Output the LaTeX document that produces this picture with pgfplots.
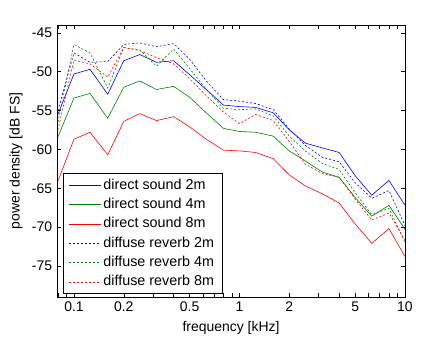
\documentclass[border=0pt]{standalone}
\usepackage{fontspec}
\setmainfont{Liberation Sans}
\usepackage{pgfplots}
\pgfplotsset{compat=1.18}
\usepackage{pgfplotstable}
\pgfplotstableread{
f     ds2   ds4   ds8   dr2   dr4   dr8
0.08  -55.5 -58.4 -64.1 -55.0 -56.5 -57.5
0.1   -50.3 -53.4 -58.7 -47.6 -46.5 -48.5
0.125 -49.7 -52.8 -57.8 -48.8 -47.6 -49.0
0.16  -52.9 -56.0 -60.7 -48.7 -52.1 -50.7
0.2   -48.6 -52.0 -56.4 -46.5 -46.9 -46.9
0.25  -47.8 -51.2 -55.4 -46.3 -47.2 -47.3
0.315 -48.8 -52.3 -56.3 -46.8 -49.3 -48.2
0.4   -48.6 -51.9 -55.8 -46.4 -47.1 -49.0
0.5   -50.4 -53.3 -57.1 -48.4 -49.6 -50.9
0.63  -52.3 -55.3 -58.7 -51.2 -52.3 -53.1
0.8   -54.3 -57.3 -60.1 -53.6 -54.7 -55.2
1     -54.5 -57.7 -60.2 -53.8 -54.9 -56.7
1.25  -54.6 -57.8 -60.4 -54.1 -54.8 -55.5
1.6   -55.3 -58.3 -61.2 -54.9 -55.7 -56.3
2     -57.5 -60.2 -63.3 -57.4 -58.3 -59.0
2.5   -59.2 -61.5 -64.7 -59.5 -60.2 -61.9
3.15  -59.8 -62.9 -65.7 -61.0 -61.8 -63.1
4     -60.4 -63.6 -66.9 -61.6 -62.6 -63.6
5     -63.4 -66.2 -69.6 -64.3 -65.6 -66.4
6.3   -65.9 -68.6 -72.1 -66.3 -68.4 -69.1
8     -64.0 -67.2 -70.2 -65.3 -67.6 -68.2
10    -67.2 -70.3 -73.8 -69.8 -72.0 -71.7
}\data
\definecolor{mblue}{rgb}{0,0,1}
\definecolor{mgreen}{rgb}{0,0.5,0}
\definecolor{mred}{rgb}{1,0,0}
\begin{document}
\fontsize{14}{16.8}\selectfont
\begin{tikzpicture}
\begin{axis}[
  scale only axis, width=348bp, height=272bp,
  xmode=log, xmin=0.079, xmax=10, ymin=-79, ymax=-44,
  xtick={0.1,0.2,0.5,1,2,5,10}, xticklabels={0.1,0.2,0.5,1,2,5,10},
  minor xtick={0.08,0.09,0.3,0.4,0.6,0.7,0.8,0.9,3,4,6,7,8,9},
  ytick={-75,-70,-65,-60,-55,-50,-45},
  yticklabels={-75,-70,-65,-60,-55,-50,-45},
  tick align=inside, major tick length=4bp, minor tick length=4bp,
  tick style={black, line width=0.5bp},
  axis line style={line width=0.6bp},
  xlabel={frequency [kHz]}, ylabel={power density [dB FS]},
  ticklabel style={font=\fontsize{14}{16}\selectfont},
  label style={font=\fontsize{14}{16}\selectfont},
  /pgf/number format/assume math mode=true,
  legend style={at={(0.016,0.011)}, anchor=south west, draw=black, line width=0.6bp, fill=white,
    font=\fontsize{14.4}{16}\selectfont, inner xsep=6bp, inner ysep=4.5bp,
    nodes={inner xsep=2bp, inner ysep=0bp, text height=11bp, text depth=3.5bp},
    row sep=4.8bp},
  legend cell align=left,
  legend image code/.code={\draw[#1, line width=0.6bp] (0bp,0bp) -- (32bp,0bp);},
  every axis plot/.append style={line width=0.6bp},
]
\addplot[mblue, solid] table[x=f, y=ds2] {\data};
\addplot[mgreen, solid] table[x=f, y=ds4] {\data};
\addplot[mred, solid] table[x=f, y=ds8] {\data};
\addplot[mblue, dash pattern=on 2bp off 2bp] table[x=f, y=dr2] {\data};
\addplot[mgreen, dash pattern=on 2bp off 2bp] table[x=f, y=dr4] {\data};
\addplot[mred, dash pattern=on 2bp off 2bp] table[x=f, y=dr8] {\data};
\legend{direct sound 2m, direct sound 4m, direct sound 8m, diffuse reverb 2m, diffuse reverb 4m, diffuse reverb 8m}
\end{axis}
\pgfresetboundingbox
\path ([xshift=-57bp,yshift=-41bp]current axis.south west) rectangle ([xshift=43bp,yshift=25bp]current axis.north east);
\end{tikzpicture}
\end{document}
